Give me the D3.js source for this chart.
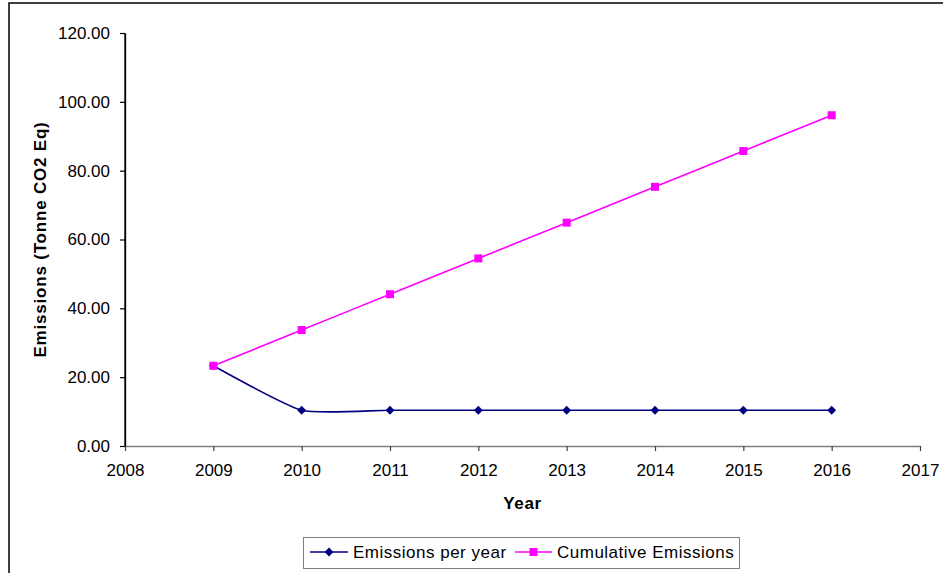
<!DOCTYPE html>
<html>
<head>
<meta charset="utf-8">
<script src="https://cdn.jsdelivr.net/npm/d3@7"></script>
<style>
  html, body { margin: 0; padding: 0; background: #fff; }
  svg { display: block; font-family: "Liberation Sans", Arial, sans-serif; }
</style>
</head>
<body>
<svg id="chart" width="943" height="573"></svg>
<script>
// Emissions data, one value per year
const years = [2009, 2010, 2011, 2012, 2013, 2014, 2015, 2016];
const emissionsPerYear = [23.3, 10.4, 10.4, 10.4, 10.4, 10.4, 10.4, 10.4];
const cumulativeEmissions = [23.3, 33.7, 44.1, 54.5, 64.9, 75.3, 85.7, 96.1];
const xTicks = [2008, 2009, 2010, 2011, 2012, 2013, 2014, 2015, 2016, 2017];
const yTicks = [0, 20, 40, 60, 80, 100, 120];
const seriesNames = ["Emissions per year", "Cumulative Emissions"];

const svg = d3.select("#chart");

// chart frame (extends past the right and bottom edges)
svg.append("rect")
  .attr("x", 9).attr("y", 3)
  .attr("width", 1200).attr("height", 1200)
  .attr("fill", "none").attr("stroke", "#000").attr("stroke-width", 1.5);

const x = d3.scaleLinear().domain([2008, 2017]).range([125, 920]);
const y = d3.scaleLinear().domain([0, 120]).range([446, 33]);

// y axis
const yAxis = svg.append("g")
  .attr("transform", `translate(${x(2008)},0)`)
  .call(d3.axisLeft(y).tickValues(yTicks).tickFormat(d3.format(".2f")).tickSize(5).tickSizeOuter(0).tickPadding(10));
yAxis.select(".domain").attr("stroke", "#000").attr("stroke-width", 1.3);
yAxis.selectAll(".tick line").attr("stroke", "#000").attr("stroke-width", 1.2);
yAxis.selectAll("text").attr("font-size", 17).attr("fill", "#000").attr("font-family", "Liberation Sans, Arial, sans-serif");

// x axis
const xAxis = svg.append("g")
  .attr("transform", `translate(0,${y(0)})`)
  .call(d3.axisBottom(x).tickValues(xTicks).tickFormat(d3.format("d")).tickSize(5).tickSizeOuter(0).tickPadding(13));
xAxis.select(".domain").attr("stroke", "#808080").attr("stroke-width", 1.6);
xAxis.selectAll(".tick line").attr("stroke", "#404040").attr("stroke-width", 1.2);
xAxis.selectAll("text").attr("font-size", 17).attr("fill", "#000").attr("font-family", "Liberation Sans, Arial, sans-serif");

// redraw y domain on top so the corner stays black
svg.append("line")
  .attr("x1", x(2008)).attr("x2", x(2008))
  .attr("y1", y(120)).attr("y2", y(0))
  .attr("stroke", "#000").attr("stroke-width", 1.3);

// axis titles
svg.append("text")
  .attr("transform", `translate(46,${(y(0) + y(120)) / 2}) rotate(-90)`)
  .attr("text-anchor", "middle")
  .attr("font-size", 17).attr("font-weight", "bold")
  .attr("letter-spacing", "0.8px")
  .text("Emissions (Tonne CO2 Eq)");

svg.append("text")
  .attr("x", (x(2008) + x(2017)) / 2).attr("y", 509)
  .attr("text-anchor", "middle")
  .attr("font-size", 17).attr("font-weight", "bold")
  .attr("letter-spacing", "0.6px")
  .text("Year");

// series
const blue = "#000080", magenta = "#FF00FF";
const line = d3.line()
  .x(d => x(d[0]))
  .y(d => y(d[1]))
  .curve(d3.curveCardinal.tension(0.45));

const perYearPts = years.map((yr, i) => [yr, emissionsPerYear[i]]);
const cumulativePts = years.map((yr, i) => [yr, cumulativeEmissions[i]]);

const diamond = d3.symbol().type(d3.symbolDiamond2).size(50);

svg.append("path").datum(perYearPts)
  .attr("d", line).attr("fill", "none")
  .attr("stroke", blue).attr("stroke-width", 1.6);
svg.append("g").selectAll("path").data(perYearPts).join("path")
  .attr("d", diamond)
  .attr("transform", d => `translate(${x(d[0])},${y(d[1])})`)
  .attr("fill", blue);

svg.append("path").datum(cumulativePts)
  .attr("d", line).attr("fill", "none")
  .attr("stroke", magenta).attr("stroke-width", 1.6);
svg.append("g").selectAll("rect").data(cumulativePts).join("rect")
  .attr("x", d => x(d[0]) - 4).attr("y", d => y(d[1]) - 4)
  .attr("width", 8).attr("height", 8)
  .attr("fill", magenta);

// legend
const legend = svg.append("g");
legend.append("rect")
  .attr("x", 303.5).attr("y", 537.5)
  .attr("width", 436).attr("height", 31)
  .attr("fill", "#fff").attr("stroke", "#808080").attr("stroke-width", 1);

const legendItems = [
  { name: seriesNames[0], color: blue, x0: 310, x1: 348, tx: 353, marker: "diamond" },
  { name: seriesNames[1], color: magenta, x0: 515, x1: 552, tx: 557, marker: "square" }
];
const ly = 552;
legendItems.forEach(it => {
  legend.append("line")
    .attr("x1", it.x0).attr("x2", it.x1)
    .attr("y1", ly).attr("y2", ly)
    .attr("stroke", it.color).attr("stroke-width", 1.6);
  const cx = (it.x0 + it.x1) / 2;
  if (it.marker === "diamond") {
    legend.append("path").attr("d", diamond)
      .attr("transform", `translate(${cx},${ly})`).attr("fill", it.color);
  } else {
    legend.append("rect").attr("x", cx - 4).attr("y", ly - 4)
      .attr("width", 8).attr("height", 8).attr("fill", it.color);
  }
  legend.append("text")
    .attr("x", it.tx).attr("y", 558)
    .attr("font-size", 17).attr("letter-spacing", "0.5px")
    .attr("fill", "#000")
    .text(it.name);
});
</script>
</body>
</html>
